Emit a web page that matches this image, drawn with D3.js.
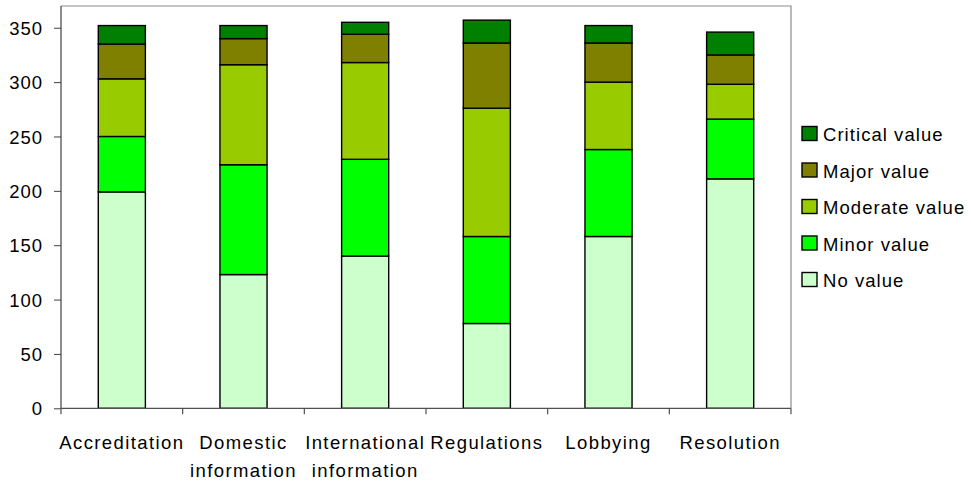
<!DOCTYPE html>
<html>
<head>
<meta charset="utf-8">
<script src="https://cdn.jsdelivr.net/npm/d3@7"></script>
<style>
  html, body { margin: 0; padding: 0; background: #fff; }
  svg { display: block; font-family: "Liberation Sans", Arial, sans-serif; }
</style>
</head>
<body>
<svg id="chart" width="971" height="483"></svg>
<script>
const categories = ["Accreditation", "Domestic information", "International information", "Regulations", "Lobbying", "Resolution"];
const seriesNames = ["No value", "Minor value", "Moderate value", "Major value", "Critical value"];
const noValue       = [199, 123, 140, 78, 158, 211];
const minorValue    = [51, 101, 89, 80, 80, 55];
const moderateValue = [53, 92, 89, 118, 62, 32];
const majorValue    = [32, 24, 26, 60, 36, 27];
const criticalValue = [17, 12, 11, 21, 16, 21];
const yTicks = [0, 50, 100, 150, 200, 250, 300, 350];
const colors = ["#CCFFCC", "#00FF00", "#99CC00", "#808000", "#008000"];

(function () {
const seriesValues = [noValue, minorValue, moderateValue, majorValue, criticalValue];
const rows = categories.map((c, i) => {
  const r = { category: c };
  seriesNames.forEach((s, j) => { r[s] = seriesValues[j][i]; });
  return r;
});

const svg = d3.select("#chart");
const pL = 61, pR = 791, pT = 6, pB = 408.3;

const x = d3.scaleBand().domain(categories).range([pL, pR]).padding(0);
const y = d3.scaleLinear().domain([0, 370]).range([pB, pT]);
const color = d3.scaleOrdinal().domain(seriesNames).range(colors);

const stacked = d3.stack().keys(seriesNames)(rows);
const barW = x.bandwidth() * 0.387;

// plot frame (top/right)
svg.append("path")
  .attr("d", `M${pL},${pT}H${pR}V${pB}`)
  .attr("fill", "none").attr("stroke", "#8c8c8c").attr("stroke-width", 1.2);

// bars
svg.append("g").selectAll("g").data(stacked).join("g")
  .attr("fill", d => color(d.key))
  .selectAll("rect").data(d => d).join("rect")
  .attr("x", d => x(d.data.category) + (x.bandwidth() - barW) / 2)
  .attr("y", d => y(d[1]))
  .attr("width", barW)
  .attr("height", d => y(d[0]) - y(d[1]))
  .attr("stroke", "#000").attr("stroke-width", 1.4);

// y axis
const yAxis = svg.append("g").attr("transform", `translate(${pL},0)`)
  .call(d3.axisLeft(y).tickValues(yTicks).tickSize(7).tickPadding(11).tickFormat(d3.format("d")));
yAxis.select(".domain").attr("stroke", "#404040").attr("stroke-width", 1.2)
  .attr("d", `M0,${pT}V${pB}`);
yAxis.selectAll(".tick line").attr("stroke", "#404040");
yAxis.selectAll(".tick text").attr("font-size", 18.5).attr("letter-spacing", "1px")
  .attr("fill", "#000").attr("font-family", "Liberation Sans, Arial, sans-serif").attr("dy", "0.36em");

// x axis
const xAxis = svg.append("g").attr("transform", `translate(0,${pB})`);
xAxis.append("path").attr("d", `M${pL},0H${pR}`).attr("stroke", "#505050").attr("stroke-width", 1.2);
const bounds = categories.map(c => x(c)).concat([pR]);
xAxis.selectAll("line.tk").data(bounds).join("line")
  .attr("x1", d => d).attr("x2", d => d).attr("y1", 0).attr("y2", 6)
  .attr("stroke", "#505050").attr("stroke-width", 1.2);

const labels = svg.append("g").selectAll("text").data(categories).join("text")
  .attr("x", d => x(d) + x.bandwidth() / 2)
  .attr("y", 449)
  .attr("text-anchor", "middle")
  .attr("font-size", 18.5)
  .attr("letter-spacing", "1.4px")
  .attr("fill", "#000");
labels.each(function(d) {
  const parts = d.split(" ");
  const t = d3.select(this);
  parts.forEach((p, i) => {
    t.append("tspan").attr("x", x(d) + x.bandwidth() / 2).attr("dy", i === 0 ? 0 : 28).text(p);
  });
});

// legend
const legendOrder = seriesNames.slice().reverse();
const lg = svg.append("g").selectAll("g").data(legendOrder).join("g")
  .attr("transform", (d, i) => `translate(802,${126.5 + i * 36.5})`);
lg.append("rect").attr("width", 15).attr("height", 14)
  .attr("fill", d => color(d)).attr("stroke", "#000").attr("stroke-width", 1.4);
lg.append("text").attr("x", 21).attr("y", 14.5)
  .attr("font-size", 18.5).attr("letter-spacing", "1.05px").attr("fill", "#000")
  .text(d => d);
})();
</script>
</body>
</html>
